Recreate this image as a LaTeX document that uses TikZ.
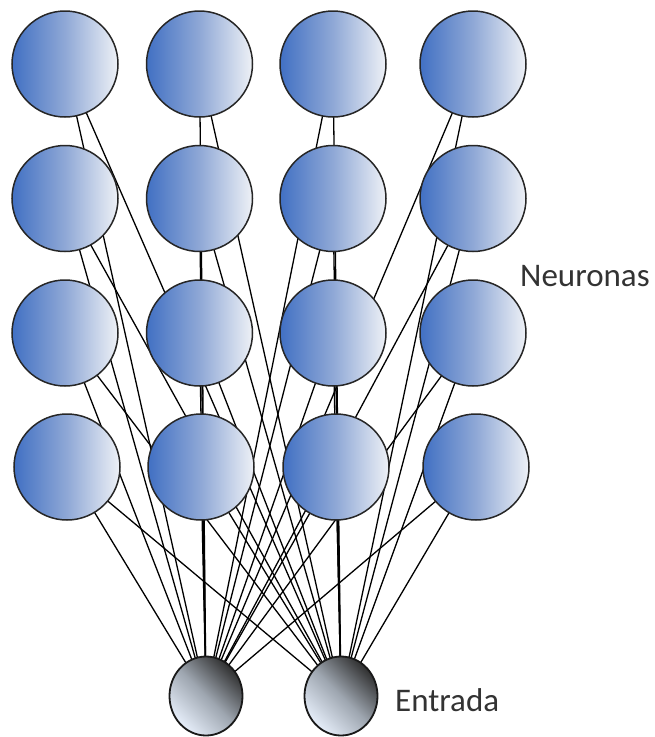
\documentclass[tikz,border=0pt]{standalone}
\usepackage{fontspec}
\setmainfont{Carlito}
\usetikzlibrary{shapes.geometric,backgrounds}
\definecolor{nblue}{HTML}{4170C3}
\definecolor{nmid}{HTML}{8FA8D6}
\definecolor{nlight}{HTML}{EEF1F6}
\definecolor{ilight}{HTML}{E6EEFA}
\definecolor{imid}{HTML}{9EA6B0}
\definecolor{idark}{HTML}{303030}
\definecolor{txt}{HTML}{333333}
\tikzset{
  neuron/.style={circle, draw=black!85, line width=1.5pt, minimum size=106pt, inner sep=0pt,
    left color=nblue, right color=nlight, middle color=nmid},
  inputnode/.style={ellipse, draw=black!90, line width=1.8pt, minimum width=73pt, minimum height=79pt, inner sep=0pt,
    left color=ilight, right color=idark, middle color=imid, shading angle=135},
  link/.style={draw=black, line width=1.3pt},
  lbl/.style={font=\fontsize{33}{36}\selectfont, text=txt, inner sep=0pt}
}
\begin{document}
\begin{tikzpicture}[x=1pt,y=-1pt]
\useasboundingbox (0,0) rectangle (655,737);
% neurons
\node[neuron] (n11) at (65,64) {};
\node[neuron] (n12) at (199.5,64) {};
\node[neuron] (n13) at (333,64) {};
\node[neuron] (n14) at (473,64) {};
\node[neuron] (n21) at (65,198.5) {};
\node[neuron] (n22) at (199.5,198.5) {};
\node[neuron] (n23) at (333,198.5) {};
\node[neuron] (n24) at (473,198.5) {};
\node[neuron] (n31) at (65,333) {};
\node[neuron] (n32) at (199.5,333) {};
\node[neuron] (n33) at (333,333) {};
\node[neuron] (n34) at (473,333) {};
\node[neuron] (n41) at (67,467) {};
\node[neuron] (n42) at (201,467) {};
\node[neuron] (n43) at (336,467) {};
\node[neuron] (n44) at (476,467) {};
% inputs
\node[inputnode] (i1) at (206,696) {};
\node[inputnode] (i2) at (341,696) {};
% labels
\node[lbl, anchor=base west] (neur) at (520,286) {Neuronas};
\node[lbl, anchor=base west] (entr) at (395,711) {Entrada};
% connections
\begin{pgfonlayer}{background}
\foreach \i in {i1,i2}{
  \foreach \r in {1,2,3,4}{
    \foreach \c in {1,2,3,4}{
      \draw[link] (\i.center) -- (n\r\c.center);
    }
  }
}
\end{pgfonlayer}
\end{tikzpicture}
\end{document}
